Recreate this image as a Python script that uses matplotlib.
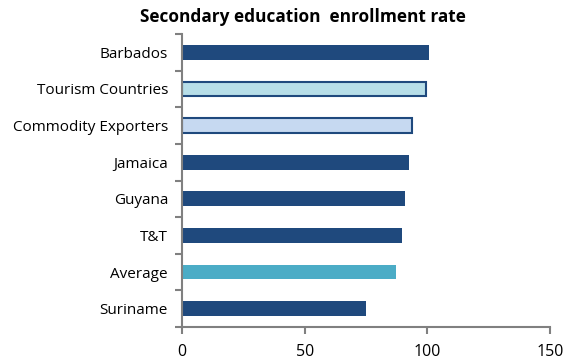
import numpy as np
import matplotlib.pyplot as plt

countries = ['Barbados', 'Tourism Countries', 'Commodity Exporters', 'Jamaica',
             'Guyana', 'T&T', 'Average', 'Suriname']
rates = [100.6, 99.4, 93.8, 92.5, 90.9, 89.8, 87.2, 74.8]
fills = ['#1F497D', '#B7DEE8', '#C6D9F1', '#1F497D',
         '#1F497D', '#1F497D', '#4BACC6', '#1F497D']

plt.rcParams['font.family'] = ['Open Sans', 'DejaVu Sans']

fig = plt.figure(figsize=(5.64, 3.64), dpi=100)
ax = fig.add_axes([182 / 564, 37 / 364, 368 / 564, 293 / 364])

y = np.arange(len(countries))[::-1]
for yi, r, c in zip(y, rates, fills):
    edge = '#1F497D' if c in ('#B7DEE8', '#C6D9F1') else c
    ax.barh(yi, r, height=0.4, color=c, edgecolor=edge, linewidth=1.5 if edge != c else 0)

ax.set_xlim(0, 150)
ax.set_ylim(-0.5, len(countries) - 0.5)
ax.set_xticks([0, 50, 100, 150])
ax.set_yticks(y)
ax.set_yticklabels(countries)
ax.set_yticks(np.arange(-0.5, len(countries), 1), minor=True)
ax.tick_params(axis='y', which='major', length=0, labelsize=11, pad=10)
ax.tick_params(axis='y', which='minor', length=5, width=1.5, color='#808080', direction='out')
ax.tick_params(axis='x', length=5, width=1.5, color='#808080', labelsize=11.5, pad=7)

for s in ['top', 'right']:
    ax.spines[s].set_visible(False)
for s in ['left', 'bottom']:
    ax.spines[s].set_color('#808080')
    ax.spines[s].set_linewidth(1.5)

fig.text(303 / 564, 1 - 17 / 364, 'Secondary education  enrollment rate',
         ha='center', va='center', fontsize=12.4, fontweight='bold')

plt.savefig('out.png')
